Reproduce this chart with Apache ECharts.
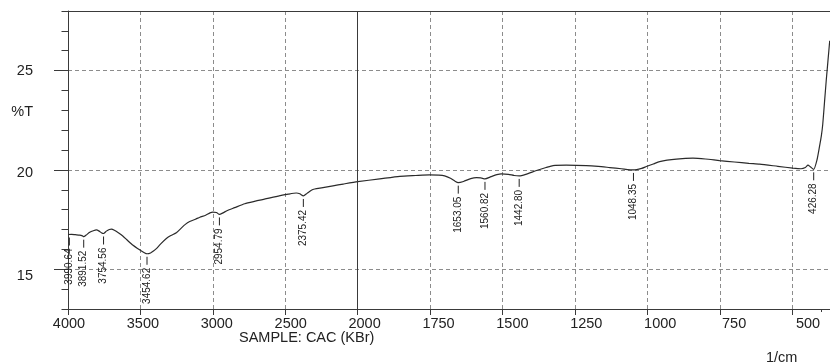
<!DOCTYPE html>
<html>
<head>
  <meta charset="utf-8">
  <title>FTIR CAC (KBr)</title>
  <script src="https://cdn.jsdelivr.net/npm/echarts@6/dist/echarts.min.js"></script>
  <style>
    html, body { margin: 0; padding: 0; background: #fff; }
    #chart { width: 830px; height: 364px; }
  </style>
</head>
<body>
<div id="chart"></div>
<script>
  // spectrum: wavenumber (1/cm) and %T
  var waveNumbers = [4000, 3975, 3950, 3920, 3900, 3891.5, 3875, 3850, 3825, 3804, 3785, 3770, 3754.6, 3735, 3715, 3700,
    3680, 3650, 3620, 3590, 3551, 3520, 3493, 3470, 3454.6, 3430, 3410, 3390, 3360, 3321, 3290, 3252, 3220, 3190, 3160,
    3120, 3090, 3050, 3020, 3000, 2975, 2954.8, 2930, 2900, 2850, 2780, 2700, 2631, 2550, 2480, 2424, 2400, 2375.4,
    2350, 2320, 2297, 2250, 2171, 2100, 2000, 1924, 1855, 1800, 1752, 1720, 1700, 1680, 1665, 1653, 1635, 1610, 1590,
    1575, 1560.8, 1540, 1520, 1504, 1480, 1460, 1442.8, 1420, 1383, 1350, 1326, 1280, 1211, 1170, 1130, 1090, 1048.4,
    1020, 1004, 980, 958, 900, 843, 800, 751, 700, 650, 613, 550, 498, 470, 455, 446, 438, 426.3, 415, 406, 400, 395,
    389, 383, 377, 371]
  var transmittance = [16.75, 16.76, 16.74, 16.72, 16.68, 16.64, 16.72, 16.86, 16.94, 16.98, 16.92, 16.84, 16.80, 16.92,
    17.00, 17.02, 16.96, 16.82, 16.66, 16.46, 16.21, 16.05, 15.92, 15.82, 15.78, 15.82, 15.92, 16.04, 16.28, 16.55, 16.70,
    16.84, 17.06, 17.26, 17.40, 17.52, 17.62, 17.72, 17.84, 17.88, 17.86, 17.76, 17.84, 17.96, 18.10, 18.30, 18.44,
    18.56, 18.68, 18.78, 18.84, 18.80, 18.69, 18.82, 18.98, 19.04, 19.10, 19.20, 19.29, 19.41, 19.55, 19.68, 19.72,
    19.75, 19.74, 19.70, 19.58, 19.44, 19.36, 19.42, 19.56, 19.61, 19.60, 19.55, 19.66, 19.76, 19.80, 19.78, 19.72,
    19.70, 19.78, 19.97, 20.12, 20.22, 20.24, 20.22, 20.18, 20.12, 20.06, 20.00, 20.08, 20.17, 20.30, 20.42, 20.54,
    20.59, 20.55, 20.47, 20.40, 20.33, 20.29, 20.18, 20.09, 20.06, 20.12, 20.24, 20.16, 20.03, 20.5, 21.2, 21.7, 22.3,
    23.4, 24.5, 25.5, 26.5]

  // picked peaks
  var peakLabels = ['3990.64', '3891.52', '3754.56', '3454.62', '2954.79', '2375.42', '1653.05', '1560.82', '1442.80',
    '1048.35', '426.28']
  var peakWave = [3990.64, 3891.52, 3754.56, 3454.62, 2954.79, 2375.42, 1653.05, 1560.82, 1442.80, 1048.35, 426.28]
  var peakT = [16.75, 16.64, 16.80, 15.78, 17.76, 18.69, 19.36, 19.55, 19.70, 20.00, 20.03]

  var xTickLabels = [4000, 3500, 3000, 2500, 2000, 1750, 1500, 1250, 1000, 750, 500]
  var yTickLabels = [15, 20, 25]

  var fontFamily = '"Liberation Sans", Arial, sans-serif'
  var gridColor = '#8c8c8c'
  var axisColor = '#3a3a3a'
  var xMax = 10.52

  // the axis is broken at 2000: 500 per step above, 250 per step below
  function toPos(w) {
    return w >= 2000 ? (4000 - w) / 500 : 4 + (2000 - w) / 250
  }

  var lineData = waveNumbers.map(function (w, i) {
    return [toPos(w), transmittance[i]]
  })
  var peakData = peakWave.map(function (w, i) {
    return [toPos(w), peakT[i]]
  })

  var labelStyle = {fontSize: 14.5, color: '#222', fontFamily: fontFamily}

  var chart = echarts.init(document.getElementById('chart'))
  chart.setOption({
    animation: false,
    title: [{
      text: 'SAMPLE: CAC (KBr)',
      left: 239,
      top: 330,
      padding: 0,
      textStyle: {fontSize: 14.5, fontWeight: 'normal', color: '#222', fontFamily: fontFamily}
    }, {
      text: '1/cm',
      left: 766,
      top: 350,
      padding: 0,
      textStyle: {fontSize: 14.5, fontWeight: 'normal', color: '#222', fontFamily: fontFamily}
    }],
    grid: {
      left: 68,
      right: 0,
      top: 11,
      bottom: 55,
      containLabel: false
    },
    xAxis: [{
      type: 'value',
      min: 0,
      max: xMax,
      interval: 1,
      axisLine: {show: true, lineStyle: {color: axisColor, width: 1}},
      axisTick: {show: true, length: 6, lineStyle: {color: axisColor}},
      axisLabel: {show: false},
      splitLine: {show: true, lineStyle: {color: gridColor, type: [4, 3], width: 1}}
    }, {
      // frame on top
      type: 'value',
      position: 'top',
      min: 0,
      max: xMax,
      axisLine: {show: true, onZero: false, lineStyle: {color: axisColor, width: 1}},
      axisTick: {show: false},
      axisLabel: {show: false},
      splitLine: {show: false}
    }, {
      // the lone short tick at 400
      type: 'value',
      position: 'bottom',
      min: 0,
      max: xMax,
      axisLine: {show: false},
      axisTick: {show: true, length: 3, customValues: [toPos(400)], lineStyle: {color: axisColor}},
      axisLabel: {show: false},
      splitLine: {show: false}
    }, {
      // tick labels sit on a slightly wider spacing than the ticks in the original
      type: 'value',
      position: 'bottom',
      min: -0.0135,
      max: 10.2975,
      axisLine: {show: false},
      axisTick: {show: false},
      splitLine: {show: false},
      axisLabel: Object.assign({
        margin: 7,
        customValues: xTickLabels.map(function (v, i) { return i }),
        formatter: function (v) {
          return String(xTickLabels[Math.round(v)])
        }
      }, labelStyle)
    }],
    yAxis: [{
      type: 'value',
      min: 13,
      max: 28,
      interval: 1,
      axisLine: {show: true, lineStyle: {color: axisColor, width: 1}},
      axisTick: {show: true, length: 6.5, lineStyle: {color: axisColor}},
      axisLabel: {show: false},
      splitLine: {show: false}
    }, {
      type: 'value',
      position: 'left',
      min: 13,
      max: 28,
      axisLine: {show: false},
      axisTick: {show: true, length: 14, customValues: yTickLabels, lineStyle: {color: axisColor}},
      axisLabel: {show: false},
      splitLine: {show: true, lineStyle: {color: gridColor, type: [4, 3], width: 1}}
    }, {
      // label layer, same drift as on the x axis
      type: 'value',
      position: 'left',
      min: 13.377,
      max: 27.94,
      axisLine: {show: false},
      axisTick: {show: false},
      splitLine: {show: false},
      axisLabel: Object.assign({
        margin: 35,
        customValues: yTickLabels.concat([23]),
        formatter: function (v) {
          return v === 23 ? '%T' : String(v)
        }
      }, labelStyle)
    }],
    series: [{
      type: 'line',
      data: lineData,
      showSymbol: false,
      smooth: 0.2,
      clip: true,
      lineStyle: {color: '#2b2b2b', width: 1.2},
      markLine: {
        silent: true,
        symbol: 'none',
        label: {show: false},
        lineStyle: {color: axisColor, type: 'solid', width: 1},
        data: [{xAxis: toPos(2000)}]
      }
    }, {
      type: 'custom',
      data: peakData,
      renderItem: function (params, api) {
        var p = api.coord([api.value(0), api.value(1)])
        return {
          type: 'group',
          children: [{
            type: 'line',
            shape: {x1: p[0], y1: p[1] + 3, x2: p[0], y2: p[1] + 11},
            style: {stroke: '#222', lineWidth: 1}
          }, {
            type: 'text',
            x: p[0],
            y: p[1] + 14,
            rotation: Math.PI / 2,
            style: {
              text: peakLabels[params.dataIndex],
              font: '10px ' + fontFamily,
              fill: '#222',
              align: 'right',
              verticalAlign: 'middle'
            }
          }]
        }
      }
    }]
  })
</script>
</body>
</html>
